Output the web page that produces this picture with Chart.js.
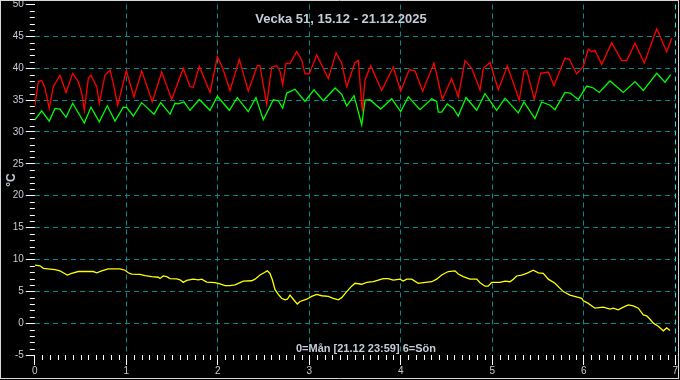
<!DOCTYPE html>
<html><head><meta charset="utf-8">
<script src="https://cdn.jsdelivr.net/npm/chart.js@4.4.1/dist/chart.umd.min.js"></script>
<style>html,body{margin:0;padding:0;background:#000;overflow:hidden}canvas{display:block}</style>
</head><body>
<canvas id="c" width="680" height="380"></canvas>
<script>
const titleText = 'Vecka 51, 15.12 - 21.12.2025';
const noteText = '0=Mån [21.12 23:59] 6=Sön';
const yAxisLabel = '°C';
const xMin = 0, xMax = 7, xStep = 1;
const yMin = -5, yMax = 50, yStep = 5;

// time in days (0=Mån), temperature in °C
const redT = [0.000,0.038,0.075,0.111,0.158,0.202,0.275,0.341,0.414,0.475,0.513,0.541,0.585,0.614,0.677,0.705,0.767,0.822,0.858,0.906,1.000,1.084,1.168,1.284,1.387,1.496,1.623,1.696,1.732,1.798,1.915,1.995,2.054,2.133,2.235,2.333,2.432,2.461,2.534,2.589,2.644,2.680,2.709,2.745,2.789,2.862,2.917,2.953,3.000,3.081,3.208,3.292,3.354,3.409,3.499,3.536,3.579,3.609,3.671,3.791,3.918,3.999,4.093,4.155,4.239,4.363,4.454,4.556,4.628,4.702,4.775,4.866,4.902,4.975,5.066,5.164,5.295,5.346,5.376,5.459,5.529,5.612,5.674,5.795,5.842,5.922,5.995,6.049,6.086,6.122,6.196,6.305,6.414,6.469,6.560,6.661,6.797,6.906,6.961];
const redV = [34.0,37.9,38.1,36.9,33.7,37.1,38.9,36.2,39.2,37.9,36.1,33.4,38.4,38.9,37.1,34.5,38.9,39.7,37.6,34.2,39.6,35.5,39.6,34.7,39.4,35.1,40.0,37.1,37.0,40.3,36.2,41.8,40.0,36.5,41.4,36.4,40.4,40.4,34.3,40.2,40.4,39.5,37.4,40.8,40.7,42.6,41.3,39.1,39.1,42.1,38.4,42.4,40.8,37.1,40.9,41.2,33.2,38.2,40.4,36.5,40.2,36.4,39.8,39.6,36.4,40.8,35.1,38.4,35.5,41.2,40.0,36.6,40.0,40.9,36.6,40.4,35.0,39.5,39.7,35.1,39.2,39.4,37.3,41.6,41.4,39.1,40.3,43.0,42.6,42.8,40.6,44.0,41.2,41.2,43.9,40.8,46.2,42.6,44.7];

const greenT = [0.000,0.075,0.158,0.221,0.275,0.341,0.414,0.541,0.614,0.705,0.792,0.877,0.967,1.004,1.077,1.168,1.303,1.376,1.478,1.532,1.568,1.631,1.696,1.798,1.915,1.995,2.126,2.213,2.333,2.417,2.497,2.607,2.661,2.709,2.753,2.844,2.953,3.051,3.153,3.281,3.354,3.409,3.489,3.573,3.609,3.663,3.780,3.901,3.999,4.082,4.210,4.338,4.392,4.410,4.447,4.508,4.574,4.628,4.713,4.830,4.920,5.048,5.139,5.284,5.346,5.466,5.540,5.631,5.685,5.795,5.850,5.940,6.032,6.104,6.169,6.286,6.432,6.560,6.650,6.797,6.888,6.950];
const greenV = [31.9,33.3,31.7,33.7,33.6,32.3,34.5,31.4,33.9,31.6,34.1,31.7,33.9,33.85,32.5,34.6,32.8,34.6,32.8,34.5,34.4,34.7,33.4,35.1,33.4,35.6,33.4,35.4,33.2,35.4,31.9,35.05,34.9,33.75,36.1,36.7,34.8,36.6,34.9,36.9,35.9,34.1,35.7,31.1,35.0,35.05,33.6,35.2,33.2,35.5,33.5,35.2,34.8,33.1,33.1,34.4,33.7,32.5,35.4,33.4,36.0,33.4,35.3,33.0,34.7,32.1,34.7,34.2,33.5,36.2,36.1,35.1,37.2,36.9,36.2,38.0,36.2,37.9,36.5,39.2,37.8,39.0];

const yellowT = [0.000,0.057,0.093,0.221,0.275,0.311,0.355,0.403,0.475,0.639,0.677,0.731,0.803,0.931,0.986,1.022,1.059,1.150,1.204,1.278,1.350,1.368,1.404,1.442,1.478,1.551,1.587,1.623,1.660,1.732,1.787,1.824,1.879,1.969,2.024,2.079,2.133,2.188,2.243,2.279,2.370,2.407,2.461,2.505,2.541,2.570,2.596,2.625,2.661,2.698,2.734,2.760,2.789,2.825,2.869,2.898,2.972,3.026,3.081,3.136,3.208,3.262,3.317,3.354,3.409,3.463,3.499,3.573,3.627,3.699,3.754,3.809,3.863,3.918,3.991,4.027,4.064,4.119,4.191,4.246,4.338,4.392,4.447,4.519,4.592,4.628,4.683,4.756,4.830,4.866,4.920,4.956,4.993,5.084,5.139,5.193,5.230,5.267,5.321,5.376,5.448,5.503,5.557,5.612,5.685,5.776,5.849,5.940,5.977,5.995,6.049,6.122,6.213,6.286,6.322,6.377,6.432,6.486,6.541,6.596,6.650,6.687,6.724,6.760,6.814,6.869,6.906,6.942];
const yellowV = [9.1,9.0,8.6,8.4,8.2,7.9,7.55,7.8,8.1,8.1,7.9,8.2,8.5,8.5,8.3,7.9,7.7,7.65,7.45,7.3,7.2,7.0,7.4,7.3,7.0,6.95,6.8,6.4,6.7,6.9,6.8,6.9,6.45,6.35,6.15,5.9,5.9,6.0,6.35,6.6,6.65,6.9,7.55,7.9,8.2,7.8,6.8,5.3,4.5,3.9,3.65,3.75,4.4,3.75,3.0,3.4,3.75,4.2,4.5,4.3,4.2,3.9,3.65,4.0,4.95,5.8,6.25,6.1,6.4,6.5,6.75,7.0,7.0,6.75,6.9,6.6,6.9,6.9,6.25,6.35,6.5,6.9,7.55,8.1,8.2,7.7,7.3,6.9,6.9,6.35,5.8,5.8,6.4,6.4,6.6,6.5,6.9,7.4,7.55,7.8,8.3,7.9,7.8,6.9,6.25,4.95,4.4,4.05,3.9,3.5,3.1,2.35,2.5,2.2,2.35,2.1,2.5,2.85,2.7,2.35,1.3,1.15,0.6,0.0,-0.5,-1.2,-0.75,-1.15];

const pts = (t, v) => t.map((x, i) => ({x: x, y: v[i]}));

const GRID = '#008c8c';
const GRID_EDGE = '#22e0f0';
const LABEL = '#c4ccd8';
const FONT = 'Arial, "Liberation Sans", sans-serif';

const decor = {
  id: 'decor',
  beforeDraw(chart) {
    const c = chart.ctx;
    c.save();
    c.fillStyle = '#000';
    c.fillRect(0, 0, chart.width, chart.height);
    c.restore();
  },
  afterDraw(chart) {
    const c = chart.ctx;
    const xs = chart.scales.x, ys = chart.scales.y;
    const ca = chart.chartArea;
    c.save();
    c.strokeStyle = '#ffffff';
    c.lineWidth = 1;
    c.beginPath();
    // minor y ticks every 1 degree
    for (let v = yMin; v <= yMax; v++) {
      if (v % yStep === 0) continue;
      const y = Math.round(ys.getPixelForValue(v)) + 0.5;
      c.moveTo(ca.left - 5, y); c.lineTo(ca.left, y);
    }
    // minor x ticks every 2 hours
    for (let k = 0; k <= (xMax - xMin) * 12; k++) {
      if (k % 12 === 0) continue;
      const x = Math.round(xs.getPixelForValue(xMin + k / 12)) + 0.5;
      c.moveTo(x, ca.bottom); c.lineTo(x, ca.bottom + 5);
    }
    c.stroke();

    // frame
    c.strokeStyle = '#d8d8d8';
    c.beginPath();
    c.moveTo(0, 0.5); c.lineTo(679, 0.5);
    c.moveTo(0.5, 0); c.lineTo(0.5, 379);
    c.moveTo(678.5, 0); c.lineTo(678.5, 379);
    c.moveTo(0, 378.5); c.lineTo(679, 378.5);
    c.stroke();

    // texts
    c.fillStyle = LABEL;
    c.textAlign = 'center';
    c.textBaseline = 'alphabetic';
    c.font = 'bold 13px ' + FONT;
    c.fillText(titleText, 341, 23);
    c.font = 'bold 11px ' + FONT;
    c.fillText(noteText, 366, 352);
    c.translate(15, 180);
    c.rotate(-Math.PI / 2);
    c.font = 'bold 12px ' + FONT;
    c.fillText(yAxisLabel, 0, 0);
    c.restore();
  }
};

new Chart(document.getElementById('c'), {
  type: 'line',
  data: {
    datasets: [
      {data: pts(redT, redV), borderColor: '#ff0000'},
      {data: pts(greenT, greenV), borderColor: '#00ff00'},
      {data: pts(yellowT, yellowV), borderColor: '#ffff00'}
    ]
  },
  options: {
    responsive: false,
    animation: false,
    devicePixelRatio: 1,
    layout: {padding: {top: 4.5, right: 4.7, left: 0, bottom: 0}},
    elements: {
      line: {borderWidth: 1.3, tension: 0, fill: false},
      point: {radius: 0}
    },
    plugins: {legend: {display: false}, tooltip: {enabled: false}, title: {display: false}},
    scales: {
      x: {
        type: 'linear', min: xMin, max: xMax,
        ticks: {stepSize: xStep, color: LABEL, font: {family: FONT, size: 10}, padding: 0, maxRotation: 0, autoSkip: false},
        grid: {
          color: (ctx) => ctx.tick && ctx.tick.value === xMin ? 'rgba(0,0,0,0)' : (ctx.tick && ctx.tick.value === xMax ? GRID_EDGE : GRID),
          lineWidth: 1, drawTicks: true, tickLength: 10, tickColor: '#ffffff', tickWidth: 1
        },
        border: {display: false, dash: [5, 4]},
        afterFit: (s) => { s.height = 25; s.paddingLeft = 0; s.paddingRight = 0; }
      },
      y: {
        type: 'linear', min: yMin, max: yMax,
        ticks: {stepSize: yStep, color: LABEL, font: {family: FONT, size: 10}, padding: 2},
        grid: {
          color: (ctx) => ctx.tick && (ctx.tick.value === yMin || ctx.tick.value === yMax) ? 'rgba(0,0,0,0)' : GRID,
          lineWidth: 1, drawTicks: true, tickLength: 9, tickColor: '#ffffff', tickWidth: 1
        },
        border: {display: false, dash: [5, 4]},
        afterFit: (s) => { s.width = 34.8; s.paddingTop = 0; s.paddingBottom = 0; }
      }
    }
  },
  plugins: [decor]
});
</script>
</body></html>
